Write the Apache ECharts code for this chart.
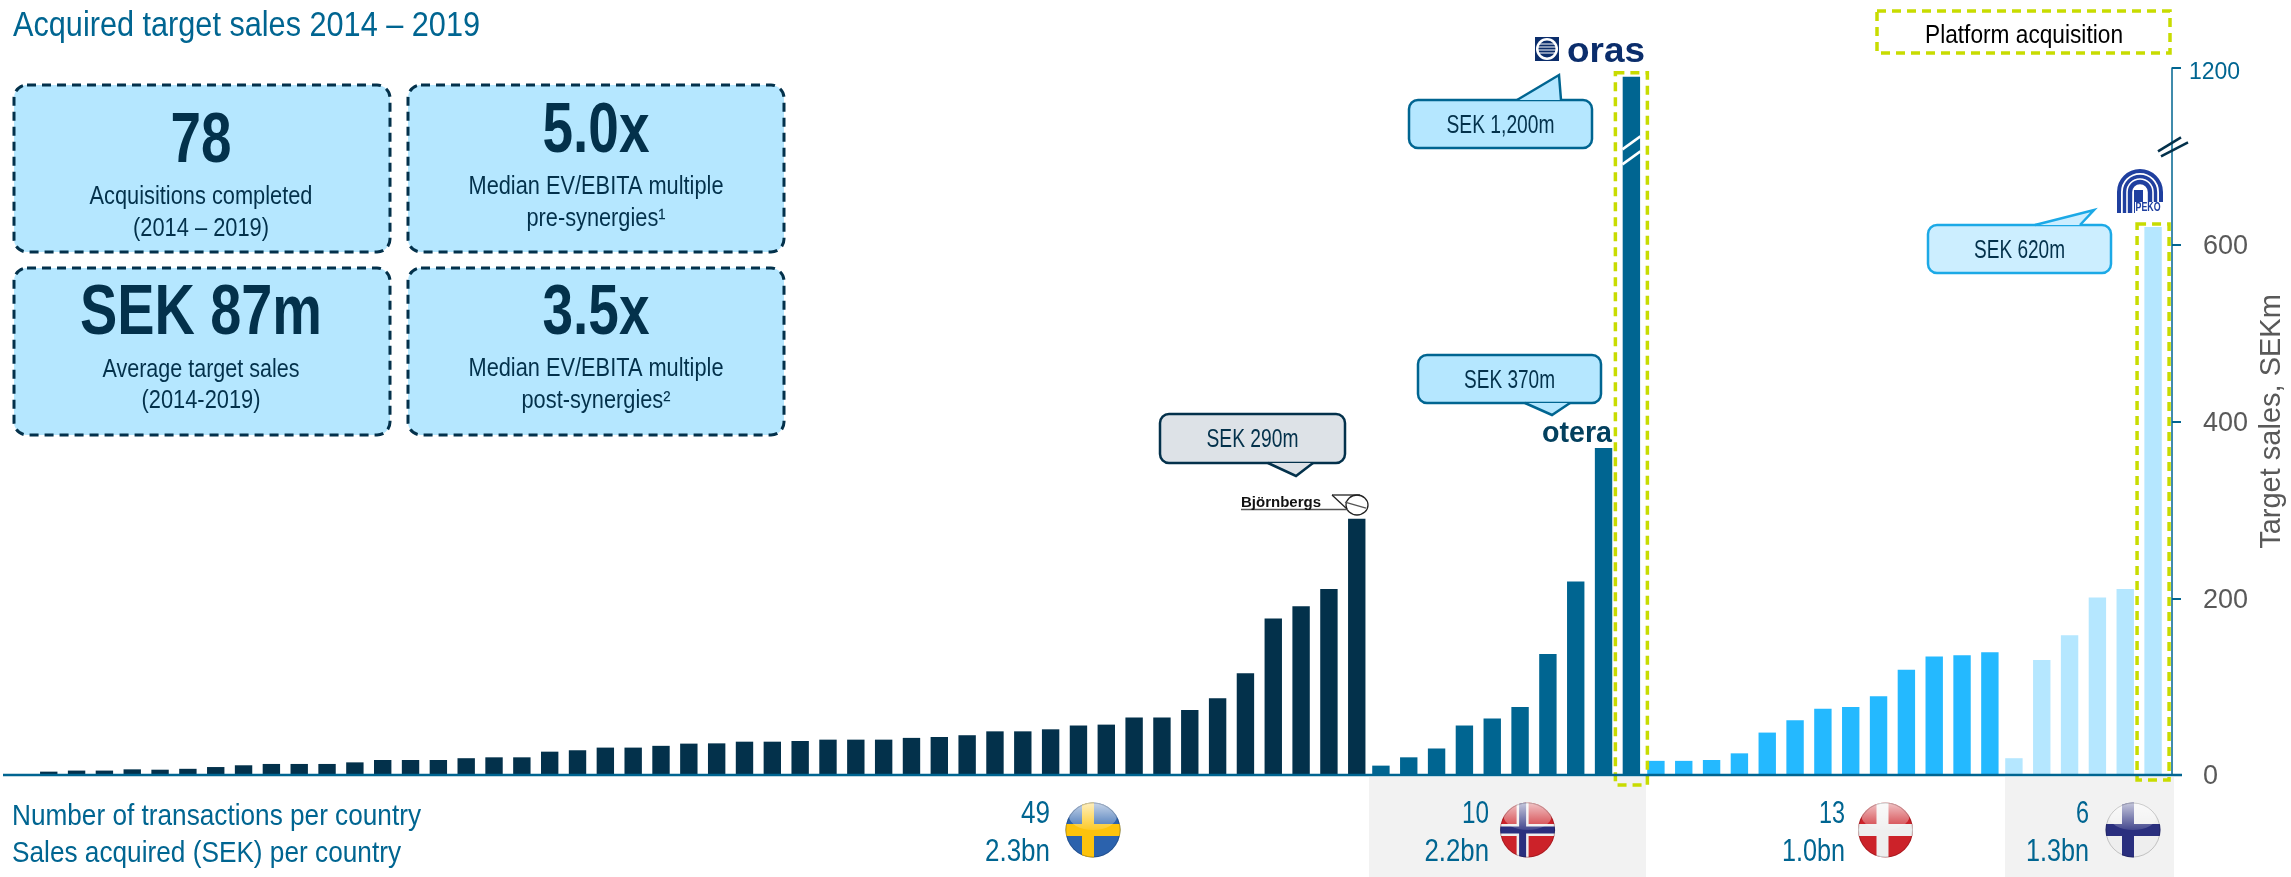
<!DOCTYPE html>
<html><head><meta charset="utf-8">
<script src="https://cdn.jsdelivr.net/npm/echarts@6/dist/echarts.min.js"></script>
<style>html,body{margin:0;padding:0;background:#fff}#c{width:2291px;height:877px}</style>
</head><body><div id="c"></div>
<script>
const swedenValues=[1,3.8,5,5,6.4,6,7,9,11,12.5,12.5,12.5,14.3,17,17,17,19,20,20,26.4,28,31,31,33,35.5,35.8,37.7,37.7,38.5,40,40,40,42,43,45,49.4,49.4,51.7,56,57,65,65,73.6,86.8,115,177,191,210.6,290];
const norwayValues=[10.6,20,30,56,64,77,137,219,370,1190];
const denmarkValues=[16,16,17,24.5,48,62,75,77,89,119,134,135.5,139];
const finlandValues=[19,130,158,200.8,210.6,620];
const yTicks=[0,200,400,600,1200];
const countries=['Sweden','Norway','Denmark','Finland'];
const transactions=['49','10','13','6'];
const salesAcquired=['2.3bn','2.2bn','1.0bn','1.3bn'];
const barColors=['#03314b','#006591','#24b9ff','#b5e7ff'];

const SANS="'Liberation Sans',Arial,sans-serif";
const BLUE='#006591',NAVY='#03314b',GREY='#595959',LIME='#c8dc00',PANEL='#b5e7ff',LOGO='#1f3f9f';
const pitch=27.83, plotTop=68, plotBottom=775;
const grids=[{left:7,n:49},{left:1367,n:10},{left:1642,n:13},{left:2000,n:6}];
const allValues=[swedenValues,norwayValues,denmarkValues,finlandValues];

const chart=echarts.init(document.getElementById('c'),null,{renderer:'canvas'});
const yBase=i=>({
  type:'value',gridIndex:i,min:0,max:1200,position:'right',offset:5,show:i===3,
  breaks:[{start:700,end:1115,gap:15}],
  breakArea:{show:false},
  splitLine:{show:false},
  name:i===3?'Target sales, SEKm':'',nameLocation:'middle',nameRotate:90,nameGap:86,
  nameTextStyle:{fontFamily:SANS,fontSize:29,color:GREY},
  axisLine:{show:true,breakLine:false,lineStyle:{color:BLUE,width:1.5}},
  axisTick:{show:true,length:9,customValues:yTicks,lineStyle:{color:BLUE,width:2}},
  axisLabel:{customValues:yTicks,margin:17,align:'left',
    formatter:v=>v===1200?'{top|1200}':'{rest|'+v+'}',
    rich:{top:{fontFamily:SANS,fontSize:23,color:BLUE,padding:[10,0,0,0]},
          rest:{fontFamily:SANS,fontSize:27,color:GREY,padding:[4,0,0,14]}}}
});
const option={
  animation:false,
  grid:grids.map(g=>({left:g.left,width:g.n*pitch,top:plotTop,height:plotBottom-plotTop,outerBoundsMode:'none',containLabel:false})),
  xAxis:grids.map((g,i)=>({type:'category',gridIndex:i,data:allValues[i].map((_,k)=>countries[i]+' '+(k+1)),
    axisLine:{show:false},axisTick:{show:false},axisLabel:{show:false},splitLine:{show:false}})),
  yAxis:grids.map((g,i)=>yBase(i)),
  series:allValues.map((d,i)=>({type:'bar',name:countries[i],xAxisIndex:i,yAxisIndex:i,data:d,barWidth:'62.5%',
    itemStyle:{color:barColors[i]},silent:true}))
};
chart.setOption(option);

const flagSvg=(bg,cross,inner,cx)=>{
  let s=`<svg xmlns="http://www.w3.org/2000/svg" width="56" height="56" viewBox="0 0 56 56"><defs><clipPath id="k"><circle cx="28" cy="28" r="27.5"/></clipPath><linearGradient id="g" x1="0" y1="0" x2="0" y2="1"><stop offset="0" stop-color="#fff" stop-opacity=".75"/><stop offset="1" stop-color="#fff" stop-opacity=".12"/></linearGradient></defs><g clip-path="url(#k)"><rect width="56" height="56" fill="${bg}"/><rect x="${cx-6}" width="12" height="56" fill="${cross}"/><rect y="22" width="56" height="12" fill="${cross}"/>`;
  if(inner) s+=`<rect x="${cx-3.5}" width="7" height="56" fill="${inner}"/><rect y="24.5" width="56" height="7" fill="${inner}"/>`;
  s+=`<ellipse cx="28" cy="14" rx="24" ry="14" fill="url(#g)"/></g><circle cx="28" cy="28" r="27" fill="none" stroke="#00000030"/></svg>`;
  return 'data:image/svg+xml;charset=utf-8,'+encodeURIComponent(s);
};
const flags=[flagSvg('#2b62ad','#fdc30c',null,23),flagSvg('#cc2229','#eeeeee','#2a2f7e',23),flagSvg('#cc2229','#eeeeee',null,25),flagSvg('#eeeeee','#2a2f7e',null,23)];
const flagX=[1093,1527.6,1885.5,2133], labelRight=[1050,1489,1845,2089];

const mctx=document.createElement('canvas').getContext('2d');
const T=(text,x,y,size,fill,align,width,weight)=>{
  const font=(weight?weight+' ':'')+size+'px '+SANS;
  mctx.font=font;
  const sx=width?width/mctx.measureText(text).width:1;
  return {type:'text',z:120,x,y:y+size*0.07,scaleX:sx,silent:true,style:{text,font,fill,align:align||'center',verticalAlign:'middle'}};
};
const dashed=(x,y,w,h,stroke,lw,fill,r,dash)=>({type:'rect',z:110,silent:true,shape:{x,y,width:w,height:h,r:r||0},style:{fill:fill||'transparent',stroke,lineWidth:lw,lineDash:dash||[9,6]}});
const line=(x1,y1,x2,y2,stroke,lw)=>({type:'line',z:115,silent:true,shape:{x1,y1,x2,y2},style:{stroke,lineWidth:lw}});
const callout=(x,y,w,h,tail,fill,stroke,text,tw)=>[
  {type:'rect',z:111,silent:true,shape:{x,y,width:w,height:h,r:9},style:{fill,stroke,lineWidth:2.5}},
  {type:'polygon',z:112,silent:true,shape:{points:tail},style:{fill}},
  {type:'polyline',z:113,silent:true,shape:{points:tail},style:{fill:'none',stroke,lineWidth:2.5}},
  T(text,x+w/2,y+h/2,25,NAVY,'center',tw)
];
const P=(cat,v,g)=>chart.convertToPixel({seriesIndex:g},[cat,v]);
const big=(t,x,y,w)=>T(t,x,y,70,NAVY,'center',w,'bold');
const small=(t,x,y,w)=>T(t,x,y,25,NAVY,'center',w);

const els=[];
els.push({type:'rect',z:1,silent:true,shape:{x:1369,y:777,width:277,height:100},style:{fill:'#f2f2f2'}});
els.push({type:'rect',z:1,silent:true,shape:{x:2005,y:777,width:169,height:100},style:{fill:'#f2f2f2'}});
const y0=P(0,0,0)[1];
els.push(line(3,y0,2182,y0,BLUE,2.5));
els.push(T('Acquired target sales 2014 – 2019',13,24,35,BLUE,'left',467));
els.push(T('Number of transactions per country',12,815,30,BLUE,'left',409));
els.push(T('Sales acquired (SEK) per country',12,852,30,BLUE,'left',389));
[[14,85],[408,85],[14,268],[408,268]].forEach(p=>els.push(dashed(p[0],p[1],376,167,NAVY,3,PANEL,13)));
els.push(big('78',201,138,61),small('Acquisitions completed',201,195,223),small('(2014 – 2019)',201,227,136));
els.push(big('5.0x',596,128,107),small('Median EV/EBITA multiple',596,185,255),small('pre-synergies¹',596,217,139));
els.push(big('SEK 87m',201,310,242),small('Average target sales',201,368,197),small('(2014-2019)',201,399,119));
els.push(big('3.5x',596,310,107),small('Median EV/EBITA multiple',596,367,255),small('post-synergies²',596,399,149));
const txW=[29,27,26,13], salesW=[65,64.5,63,63];
countries.forEach((c,i)=>{
  els.push(T(transactions[i],labelRight[i],812,32,BLUE,'right',txW[i]));
  els.push(T(salesAcquired[i],labelRight[i],850,32,BLUE,'right',salesW[i]));
  els.push({type:'image',z:100,silent:true,style:{image:flags[i],x:flagX[i]-28,y:802,width:56,height:56}});
});
const oras=P(9,norwayValues[9],1), peko=P(5,finlandValues[5],3);
els.push(dashed(oras[0]-16,oras[1]-4,32,y0-oras[1]+14,LIME,3.5));
els.push(dashed(peko[0]-16,peko[1]-3,32,y0-peko[1]+8,LIME,3.5));
els.push(dashed(1877,11,293,42,LIME,3.5));
els.push(T('Platform acquisition',2024,34,25,'#000','center',198));
const bY=P(0,700,3)[1];
els.push(line(oras[0]-9,bY-7,oras[0]+9,bY-20,'#fff',2.5),line(oras[0]-9,bY+8,oras[0]+9,bY-5,'#fff',2.5));
els.push(line(2158,bY-5,2181,bY-19,NAVY,2.5),line(2161,bY,2188,bY-14,NAVY,2.5));
els.push(...callout(1409,100,183,48,[[1517,100],[1559,75],[1561,100]],PANEL,BLUE,'SEK 1,200m',108));
els.push(...callout(1418,355,183,48,[[1525,403],[1552,415],[1570,403]],PANEL,BLUE,'SEK 370m',91));
els.push(...callout(1928,225,183,48,[[2035,225],[2094,210],[2080,225]],'#cceeff','#1ca9e6','SEK 620m',91));
els.push(...callout(1160,414,185,49,[[1268,463],[1296,476],[1313,463]],'#dde2e7',NAVY,'SEK 290m',92));
// oras
els.push({type:'rect',z:100,silent:true,shape:{x:1535,y:37,width:24,height:24},style:{fill:'#0b2d6b'}});
els.push({type:'circle',z:101,silent:true,shape:{cx:1547,cy:49,r:11},style:{fill:'#fff'}});
els.push({type:'circle',z:102,silent:true,shape:{cx:1547,cy:49,r:8.5},style:{fill:'#0b2d6b'}});
[44,47,50,53].forEach(y=>els.push(line(1538,y,1556,y,'#fff',1)));
els.push(T('oras',1567,50,35,'#0b2d6b','left',78,'bold'));
// otera
els.push(T('otera',1577,432,30,'#03405e','center',70,'bold'));
// Björnbergs
els.push(T('Björnbergs',1241,502,15.5,'#111','left',80,'bold'));
els.push(line(1241,509.5,1348,509.5,'#555',1.5));
els.push({type:'ellipse',z:101,silent:true,shape:{cx:1357,cy:505,rx:11,ry:10},style:{fill:'#fff',stroke:'#222',lineWidth:1.3}});
els.push(line(1332,495,1360,495,'#222',1.3),line(1332,495,1347,509,'#222',1.3),line(1345,502,1366,508,'#555',1.3));
// PEKO
[[21,4],[15.5,3.4],[10,4.4]].forEach(a=>{
  els.push({type:'arc',z:101,silent:true,shape:{cx:2140,cy:192,r:a[0],startAngle:Math.PI,endAngle:Math.PI*2},style:{fill:'none',stroke:LOGO,lineWidth:a[1]}});
  els.push(line(2140-a[0],192,2140-a[0],213,LOGO,a[1]));
  els.push(line(2140+a[0],192,2140+a[0],202,LOGO,a[1]));
});
els.push({type:'rect',z:101,silent:true,shape:{x:2134,y:190,width:9,height:23},style:{fill:LOGO}});
els.push({type:'rect',z:101,silent:true,shape:{x:2135,y:202,width:28,height:11},style:{fill:'#fff'}});
els.push(T('PEKO',2148,207,12,LOGO,'center',25,'bold'));
chart.setOption({graphic:{elements:els}});
</script></body></html>
